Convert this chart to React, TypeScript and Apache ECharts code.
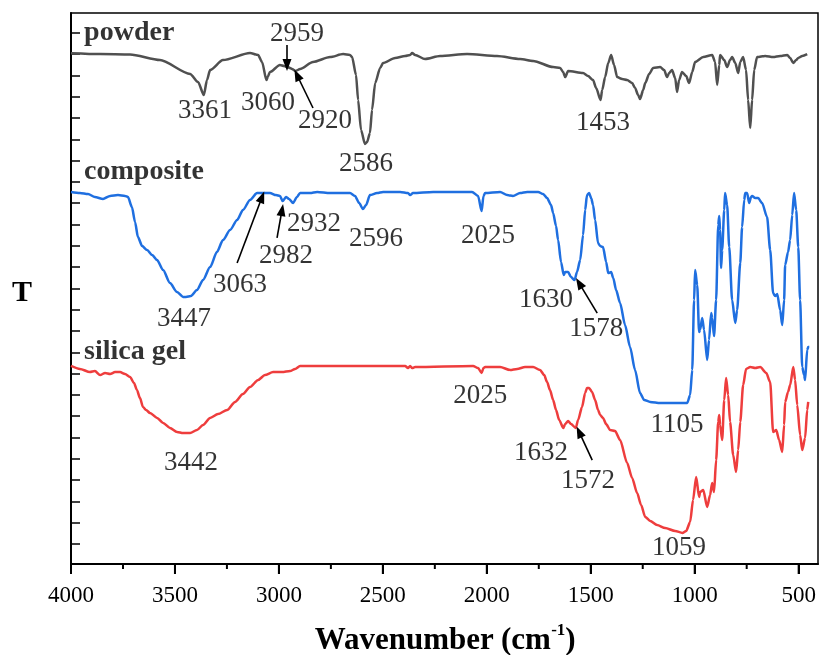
import React, { useEffect, useRef } from "react";
import * as echarts from "echarts";

// FTIR transmittance spectra, vertically offset: [wavenumber (cm-1), T (offset units)]
const powder: number[][] = [
  [4000, 23.04], [3860, 23.0], [3716, 22.98], [3572, 22.72], [3427, 22.07], [3389, 21.69], [3361, 21.08],
  [3346, 21.78], [3331, 22.25], [3269, 22.72], [3139, 23.05], [3100, 22.96], [3081, 22.63], [3060, 21.78],
  [3052, 21.97], [3043, 22.16], [2995, 22.49], [2975, 22.44], [2959, 22.39], [2946, 22.35], [2937, 22.3],
  [2920, 22.21], [2898, 22.3], [2836, 22.63], [2754, 22.86], [2691, 23.0], [2658, 22.96], [2648, 22.86],
  [2629, 22.02], [2619, 20.84], [2605, 19.44], [2586, 18.78], [2576, 18.87], [2562, 19.3], [2552, 20.38],
  [2537, 21.64], [2513, 22.35], [2499, 22.58], [2441, 22.82], [2393, 22.91], [2369, 22.96], [2359, 23.05],
  [2345, 22.96], [2297, 22.77], [2225, 22.91], [2095, 23.0], [1951, 22.91], [1840, 22.77], [1777, 22.68],
  [1681, 22.39], [1647, 22.35], [1633, 22.16], [1623, 21.92], [1609, 22.21], [1537, 22.11], [1513, 21.97],
  [1489, 21.78], [1474, 21.41], [1453, 20.84], [1445, 21.31], [1431, 21.92], [1416, 22.58], [1402, 22.96],
  [1388, 22.49], [1373, 21.92], [1349, 21.83], [1325, 21.78], [1301, 21.64], [1287, 21.41], [1272, 21.08],
  [1263, 20.89], [1248, 21.31], [1238, 21.64], [1219, 22.07], [1200, 22.35], [1166, 22.39], [1147, 22.25],
  [1133, 21.92], [1123, 22.11], [1109, 22.25], [1094, 21.88], [1085, 21.22], [1075, 21.78], [1061, 22.16],
  [1041, 21.97], [1027, 21.64], [1012, 22.16], [998, 22.63], [959, 22.86], [916, 22.96], [902, 22.63],
  [892, 21.55], [882, 22.49], [878, 22.96], [858, 22.72], [844, 22.39], [830, 22.72], [820, 22.86],
  [805, 22.58], [791, 22.11], [781, 22.63], [767, 22.86], [753, 22.25], [743, 20.84], [733, 19.53],
  [724, 20.84], [714, 22.25], [700, 22.86], [661, 22.91], [623, 22.86], [589, 22.91], [555, 22.96],
  [541, 22.82], [526, 22.58], [512, 22.72], [502, 22.82], [483, 22.91], [459, 23.0],
];

const composite: number[][] = [
  [4000, 16.53], [3957, 16.48], [3918, 16.43], [3885, 16.29], [3846, 16.2], [3812, 16.34], [3774, 16.38],
  [3740, 16.34], [3726, 16.29], [3707, 15.82], [3692, 15.12], [3678, 14.41], [3658, 13.99], [3634, 13.8],
  [3610, 13.57], [3586, 13.33], [3557, 12.86], [3524, 12.25], [3490, 11.83], [3461, 11.6], [3447, 11.6],
  [3423, 11.64], [3394, 11.92], [3365, 12.39], [3331, 13.0], [3298, 13.71], [3269, 14.27], [3235, 14.74],
  [3201, 15.21], [3173, 15.68], [3139, 16.15], [3105, 16.48], [3067, 16.48], [3043, 16.48], [3014, 16.38],
  [2995, 16.34], [2982, 16.1], [2966, 16.29], [2951, 16.2], [2932, 16.01], [2913, 16.29], [2898, 16.48],
  [2850, 16.48], [2816, 16.53], [2754, 16.48], [2658, 16.48], [2634, 16.34], [2614, 16.01], [2596, 15.73],
  [2581, 15.91], [2562, 16.38], [2528, 16.48], [2499, 16.53], [2417, 16.53], [2379, 16.48], [2369, 16.38],
  [2355, 16.48], [2258, 16.53], [2071, 16.53], [2042, 16.34], [2025, 15.63], [2016, 16.34], [2008, 16.48],
  [1936, 16.53], [1902, 16.38], [1874, 16.34], [1840, 16.48], [1806, 16.53], [1753, 16.53], [1729, 16.43],
  [1710, 16.24], [1691, 15.91], [1681, 15.54], [1667, 14.93], [1657, 14.27], [1643, 13.24], [1630, 12.63],
  [1623, 12.77], [1609, 12.77], [1595, 12.53], [1578, 12.39], [1566, 12.77], [1551, 13.33], [1537, 14.51],
  [1527, 15.68], [1518, 16.38], [1508, 16.48], [1498, 16.24], [1489, 15.91], [1479, 15.21], [1465, 14.13],
  [1455, 13.99], [1441, 13.94], [1426, 13.24], [1416, 12.72], [1402, 12.77], [1392, 12.49], [1378, 11.92],
  [1359, 11.31], [1335, 10.28], [1311, 9.25], [1287, 8.17], [1263, 7.09], [1243, 6.76], [1214, 6.67],
  [1166, 6.62], [1105, 6.62], [1070, 6.62], [1036, 6.62], [1022, 6.99], [1012, 8.17], [1003, 11.45],
  [998, 12.86], [988, 12.16], [979, 9.95], [974, 10.05], [964, 10.61], [955, 10.05], [940, 8.64], [931, 9.58],
  [921, 10.84], [916, 10.61], [907, 9.76], [897, 11.45], [887, 14.98], [882, 15.4], [878, 14.74],
  [873, 12.96], [868, 13.8], [858, 15.68], [854, 16.48], [844, 15.91], [834, 13.94], [820, 11.45],
  [805, 10.38], [796, 10.98], [781, 13.19], [772, 14.88], [762, 16.15], [757, 16.48], [748, 16.48],
  [738, 16.01], [729, 16.29], [724, 16.34], [709, 16.24], [695, 16.24], [676, 16.01], [652, 15.35],
  [637, 13.8], [623, 11.78], [613, 11.64], [603, 11.74], [589, 10.98], [579, 10.28], [570, 11.45],
  [565, 13.1], [551, 13.71], [541, 14.27], [531, 15.45], [522, 16.48], [512, 15.68], [502, 13.94],
  [493, 11.45], [483, 8.31], [474, 7.93], [469, 7.7], [459, 9.11], [454, 9.25], [449, 9.25],
];

const silicaGel: number[][] = [
  [4000, 8.36], [3957, 8.22], [3909, 8.07], [3885, 8.12], [3860, 7.93], [3836, 8.03], [3812, 7.98],
  [3788, 8.07], [3764, 8.07], [3740, 7.98], [3716, 7.84], [3697, 7.56], [3683, 7.23], [3668, 6.85],
  [3654, 6.43], [3639, 6.29], [3620, 6.15], [3586, 5.92], [3557, 5.68], [3524, 5.45], [3490, 5.26],
  [3461, 5.21], [3442, 5.21], [3427, 5.21], [3394, 5.35], [3365, 5.59], [3331, 5.92], [3293, 6.1],
  [3249, 6.29], [3211, 6.67], [3173, 7.04], [3139, 7.37], [3100, 7.7], [3067, 7.93], [3028, 8.07],
  [2985, 8.07], [2946, 8.12], [2922, 8.22], [2898, 8.36], [2706, 8.36], [2499, 8.36], [2393, 8.36],
  [2379, 8.26], [2369, 8.36], [2359, 8.26], [2345, 8.31], [2066, 8.36], [2042, 8.26], [2025, 8.03],
  [2016, 8.26], [2008, 8.31], [1936, 8.31], [1888, 8.17], [1854, 8.22], [1816, 8.31], [1777, 8.31],
  [1744, 8.17], [1724, 7.93], [1710, 7.6], [1696, 7.23], [1681, 6.76], [1667, 6.29], [1652, 5.82],
  [1632, 5.45], [1623, 5.63], [1609, 5.77], [1595, 5.63], [1572, 5.45], [1561, 5.82], [1542, 6.43],
  [1527, 7.09], [1518, 7.32], [1508, 7.32], [1494, 7.14], [1479, 6.76], [1465, 6.29], [1455, 6.06],
  [1441, 5.92], [1426, 5.63], [1407, 5.35], [1383, 5.3], [1359, 4.88], [1325, 3.8], [1301, 3.1],
  [1277, 2.39], [1258, 1.83], [1238, 1.27], [1214, 1.08], [1181, 0.89], [1142, 0.75], [1094, 0.61],
  [1059, 0.52], [1041, 0.61], [1022, 1.03], [1008, 2.07], [993, 3.15], [979, 2.21], [974, 2.44],
  [959, 2.53], [940, 1.74], [926, 2.3], [916, 2.86], [907, 2.44], [897, 3.94], [887, 5.73], [882, 6.06],
  [878, 5.59], [868, 4.88], [858, 6.76], [849, 7.79], [839, 6.99], [830, 5.73], [815, 4.18], [801, 3.38],
  [791, 4.41], [781, 5.73], [767, 7.46], [753, 8.22], [733, 8.31], [709, 8.26], [685, 8.31], [656, 8.03],
  [637, 7.6], [623, 5.26], [608, 5.35], [594, 4.88], [579, 4.32], [570, 5.59], [565, 6.67], [551, 7.14],
  [541, 7.46], [526, 8.31], [517, 7.7], [507, 6.53], [493, 5.12], [483, 4.41], [469, 4.98], [459, 6.29],
  [454, 6.67],
];

// Peak annotations: [x, y, text]
const powderPeaks: (number | string)[][] = [
  [3355, 20.42, "3361"], [3052, 20.8, "3060"], [2913, 24.04, "2959"],
  [2778, 19.95, "2920"], [2581, 17.93, "2586"], [1441, 19.86, "1453"],
];
const compositePeaks: (number | string)[][] = [
  [3456, 10.66, "3447"], [3187, 12.25, "3063"], [2966, 13.61, "2982"], [2831, 15.12, "2932"],
  [2533, 14.41, "2596"], [1994, 14.55, "2025"], [1715, 11.55, "1630"], [1474, 10.19, "1578"],
  [1085, 5.68, "1105"],
];
const silicaPeaks: (number | string)[][] = [
  [3423, 3.9, "3442"], [2032, 7.04, "2025"], [1739, 4.37, "1632"], [1513, 3.05, "1572"],
  [1075, -0.1, "1059"],
];
const sampleNames: (number | string)[][] = [
  [3937, 24.13, "powder"], [3937, 17.56, "composite"], [3937, 9.11, "silica gel"],
];

// Pointer arrows: [from, to]
const arrows: number[][][] = [
  [[2961, 23.43], [2961, 22.49]],
  [[2836, 20.47], [2913, 22.02]],
  [[3201, 13.19], [3081, 16.29]],
  [[3009, 14.37], [2985, 15.68]],
  [[1469, 10.84], [1556, 12.25]],
  [[1493, 3.94], [1556, 5.26]],
];

const wavenumberTicks = [4000, 3500, 3000, 2500, 2000, 1500, 1000, 500];
const wavenumberMinorTicks = [3750, 3250, 2750, 2250, 1750, 1250, 750];
const tTicks = [0, 1, 2, 3, 4, 5, 6, 7, 8, 9, 10, 11, 12, 13, 14, 15, 16, 17, 18, 19, 20, 21, 22, 23, 24];

const X_MIN = 407;
const X_MAX = 4000;
const Y_MIN = -0.94;
const Y_MAX = 24.93;

const SERIF = "'Times New Roman', 'Liberation Serif', serif";
const COLORS = { powder: "#505050", composite: "#1f6fe0", silica: "#ee3d3d" };

function labelSeries(name: string, points: (number | string)[][], size: number, bold: boolean, align: string) {
  return {
    name,
    type: "scatter",
    data: points.map((p) => ({ value: [p[0], p[1]], text: p[2] })),
    symbolSize: 1,
    itemStyle: { color: "transparent" },
    silent: true,
    z: 5,
    label: {
      show: true,
      position: "inside",
      align,
      verticalAlign: "middle",
      formatter: (prm: any) => prm.data.text,
      color: "#000",
      fontFamily: SERIF,
      fontSize: size,
      fontWeight: bold ? "bold" : "normal",
    },
  };
}

const titleGraphics: any[] = [
  {
    type: "text",
    x: 22,
    y: 290,
    style: { text: "T", font: `bold 30px ${SERIF}`, fill: "#000", align: "center", verticalAlign: "middle" },
  },
  {
    type: "text",
    x: 445,
    y: 638,
    style: {
      text: "{a|Wavenumber (cm}{s|-1}{a|)}",
      align: "center",
      verticalAlign: "middle",
      rich: {
        a: { fontFamily: SERIF, fontWeight: "bold", fontSize: 31, fill: "#000", lineHeight: 34 },
        s: { fontFamily: SERIF, fontWeight: "bold", fontSize: 17, fill: "#000", verticalAlign: "top", lineHeight: 34 },
      },
    },
  },
];

export default function App() {
  const ref = useRef<HTMLDivElement>(null);

  useEffect(() => {
    const chart = echarts.init(ref.current!, null, { renderer: "svg" });
    const lineBase = { type: "line", showSymbol: false, smooth: 0.25, smoothMonotone: "x", silent: true };
    chart.setOption({
      animation: false,
      grid: { left: 71, right: 2, top: 13, bottom: 91, show: true, borderColor: "#000", borderWidth: 1.5 },
      xAxis: {
        type: "value",
        min: X_MIN,
        max: X_MAX,
        inverse: true,
        axisLine: { show: true, onZero: false, lineStyle: { color: "#000", width: 2 } },
        axisTick: { show: true, customValues: wavenumberTicks, length: 10, lineStyle: { color: "#000", width: 2 } },
        axisLabel: {
          customValues: wavenumberTicks,
          formatter: (v: number) => String(v),
          color: "#000",
          fontFamily: SERIF,
          fontSize: 23,
          margin: 19,
        },
        splitLine: { show: false },
      },
      yAxis: {
        type: "value",
        min: Y_MIN,
        max: Y_MAX,
        axisLine: { show: true, onZero: false, lineStyle: { color: "#000", width: 2 } },
        axisTick: { show: true, inside: true, customValues: tTicks, length: 9, lineStyle: { color: "#000", width: 1.5 } },
        axisLabel: { show: false },
        splitLine: { show: false },
      },
      graphic: titleGraphics,
      series: [
        {
          ...lineBase,
          name: "powder",
          data: powder,
          lineStyle: { color: COLORS.powder, width: 2.5 },
          markLine: {
            silent: true,
            symbol: ["none", "triangle"],
            symbolSize: [9, 12],
            label: { show: false },
            lineStyle: { color: "#000", width: 1.6, type: "solid" },
            data: arrows.map((a) => [{ coord: a[0] }, { coord: a[1] }]),
          },
        },
        { ...lineBase, name: "composite", data: composite, lineStyle: { color: COLORS.composite, width: 2.5 } },
        { ...lineBase, name: "silica gel", data: silicaGel, lineStyle: { color: COLORS.silica, width: 2.5 } },
        labelSeries("powder peaks", powderPeaks, 27, false, "center"),
        labelSeries("composite peaks", compositePeaks, 27, false, "center"),
        labelSeries("silica peaks", silicaPeaks, 27, false, "center"),
        labelSeries("samples", sampleNames, 28, true, "left"),
      ],
    });

    // Outward ticks under the wavenumber axis, positioned through the axis scale
    const tickEls: any[] = [];
    const addTicks = (values: number[], len: number) => {
      for (const v of values) {
        const p = chart.convertToPixel({ gridIndex: 0 }, [v, Y_MIN]) as number[];
        tickEls.push({
          type: "line",
          z: 100,
          shape: { x1: p[0], y1: p[1], x2: p[0], y2: p[1] + len },
          style: { stroke: "#000", lineWidth: 2 },
        });
      }
    };
    addTicks(wavenumberTicks, 10);
    addTicks(wavenumberMinorTicks, 5);
    chart.setOption({ graphic: [...titleGraphics, ...tickEls] });

    return () => chart.dispose();
  }, []);

  return <div ref={ref} style={{ position: "fixed", left: 0, top: 0, width: 820, height: 655 }} />;
}
